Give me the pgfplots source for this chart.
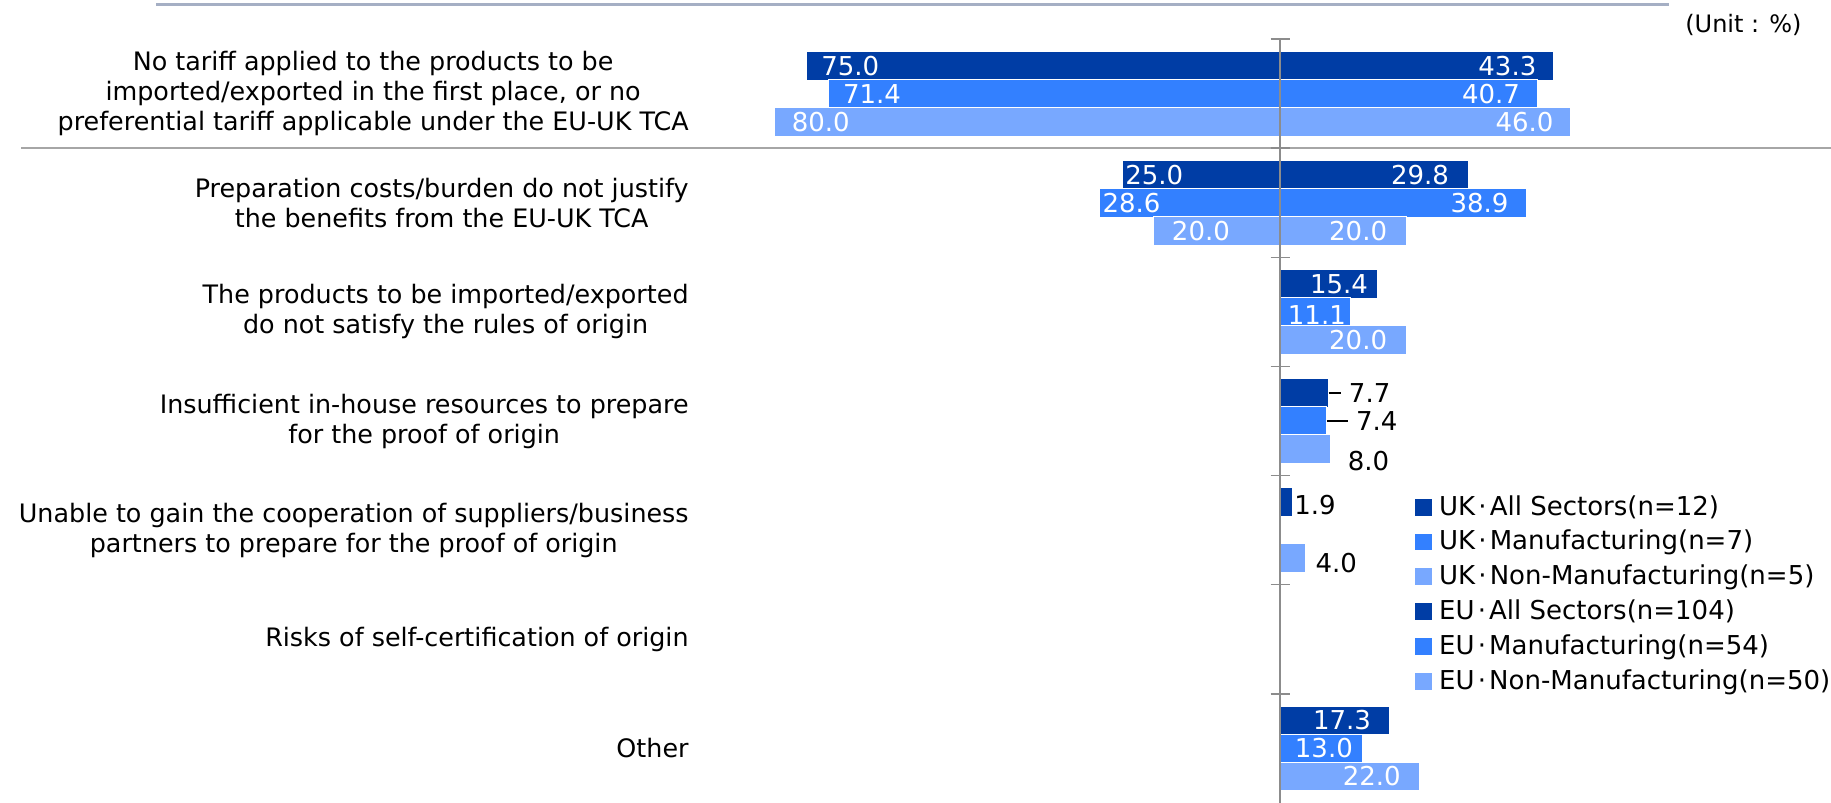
\documentclass[border=0pt]{standalone}
\usepackage{fontspec}
\setmainfont{DejaVu Sans}
\usepackage{pgfplots}
\pgfplotsset{compat=1.18}
\usepackage{pgfplotstable}

\definecolor{cDark}{RGB}{0,61,165}
\definecolor{cMid}{RGB}{51,128,255}
\definecolor{cLight}{RGB}{120,168,255}
\definecolor{axisgray}{RGB}{140,140,140}
\definecolor{sepgray}{RGB}{166,166,166}
\definecolor{topline}{RGB}{165,175,196}

\newcommand\lblfont{\fontsize{13bp}{15bp}\selectfont}
\newcommand\catfont{\fontsize{12.7bp}{15bp}\selectfont}
\newcommand\mdot{\kern0.12em·\kern0.12em}

% y = category (1 = top), x = signed bar length, v = printed value,
% dx/dy = label offset in bp, tc = 1 for a dark label outside the bar
\pgfplotstableread{
y x v dx dy tc
1 -75.0 75.0 7.5 0 0
2 -25.0 25.0 1.5 0 0
}\ukAll
\pgfplotstableread{
y x v dx dy tc
1 -71.4 71.4 7 0 0
2 -28.6 28.6 1.5 0 0
}\ukMfg
\pgfplotstableread{
y x v dx dy tc
1 -80.0 80.0 8.5 0 0
2 -20.0 20.0 9 0 0
}\ukNon
\pgfplotstableread{
y x v dx dy tc
1 43.3 43.3 -8.5 0 0
2 29.8 29.8 -9.5 0 0
3 15.4 15.4 -4.5 0 0
4 7.7 7.7 31 0 1
5 1.9 1.9 22 -1.5 1
7 17.3 17.3 -9 0 0
}\euAll
\pgfplotstableread{
y x v dx dy tc
1 40.7 40.7 -8.5 0 0
2 38.9 38.9 -8.5 0 0
3 11.1 11.1 -2 -1.5 0
4 7.4 7.4 35.5 0 1
7 13.0 13.0 -4.5 0 0
}\euMfg
\pgfplotstableread{
y x v dx dy tc
1 46.0 46.0 -8.5 0 0
2 20.0 20.0 -9.5 0 0
3 20.0 20.0 -9.5 0 0
4 8.0 8.0 29.5 -6 1
5 4.0 4.0 26 -2.5 1
7 22.0 22.0 -9 0 0
}\euNon

\pgfplotsset{
  lbl/.style={
    point meta=explicit,
    visualization depends on={\thisrow{dx}\as\lbldx},
    visualization depends on={\thisrow{dy}\as\lbldy},
    visualization depends on={\thisrow{tc}\as\lbltc},
    nodes near coords={\ifdim\lbltc pt>0.5pt\color{black}\else\color{white}\fi
      \pgfmathprintnumber[fixed,fixed zerofill,precision=1]{\pgfplotspointmeta}},
    every node near coord/.append style={inner sep=0pt, anchor=#1,
      xshift=\lbldx bp, yshift=\lbldy bp, font=\lblfont},
  },
  bars/.style={fill=#1, draw=white, line width=0.35bp},
}

\begin{document}
\begin{tikzpicture}
\begin{axis}[
  scale only axis,
  width=915.5bp, height=382bp,
  xmin=-202.53, xmax=87.18,
  ymin=0.5, ymax=7.5, y dir=reverse,
  xbar, bar width=0.263,
  clip=false,
  axis line style={draw=none},
  xtick=\empty,
  ytick={1,...,7},
  major tick length=0pt,
  yticklabels={
    {No tariff applied to the products to be\\imported/exported in the first place, or no\\preferential tariff applicable under the EU-UK TCA},
    {Preparation costs/burden do not justify\\the benefits from the EU-UK TCA},
    {The products to be imported/exported\\do not satisfy the rules of origin},
    {Insufficient in-house resources to prepare\\for the proof of origin},
    {Unable to gain the cooperation of suppliers/business\\partners to prepare for the proof of origin},
    {Risks of self-certification of origin},
    {Other}},
  yticklabel style={align=center, inner sep=0pt, anchor=east, xshift=344.5bp, font=\catfont},
  /pgf/number format/assume math mode=true,
  legend style={draw=none, fill=none, at={(axis description cs:0.7728,0.4035)}, anchor=north west,
    font=\lblfont, row sep=5.4bp, inner sep=0pt,
    nodes={inner sep=0pt, text height=10bp, text depth=2bp},
    /tikz/every odd column/.append style={column sep=3.5bp}},
  legend cell align=left,
  legend image code/.code={\path[#1,draw=none] (0bp,-4.2bp) rectangle (8.4bp,4.2bp);},
]
\addplot[bars=cDark, bar shift=-0.2565, lbl=west] table[x=x,y=y,meta=v]{\ukAll};
\addplot[bars=cMid, bar shift=0, lbl=west] table[x=x,y=y,meta=v]{\ukMfg};
\addplot[bars=cLight, bar shift=0.2565, lbl=west] table[x=x,y=y,meta=v]{\ukNon};
\addplot[bars=cDark, bar shift=-0.2565, lbl=east] table[x=x,y=y,meta=v]{\euAll};
\addplot[bars=cMid, bar shift=0, lbl=east] table[x=x,y=y,meta=v]{\euMfg};
\addplot[bars=cLight, bar shift=0.2565, lbl=east] table[x=x,y=y,meta=v]{\euNon};
\legend{UK\mdot All Sectors(n=12), UK\mdot Manufacturing(n=7), UK\mdot Non-Manufacturing(n=5),
        EU\mdot All Sectors(n=104), EU\mdot Manufacturing(n=54), EU\mdot Non-Manufacturing(n=50)}

% separator under the first item
\draw[sepgray, line width=1bp] (axis cs:-199.2,1.5) -- (axis cs:87.18,1.5);
% centre axis with category ticks
\draw[axisgray, line width=0.75bp] (axis cs:0,0.5) -- (axis cs:0,7.5);
\pgfplotsinvokeforeach{0.5,1.5,2.5,3.5,4.5,5.5,6.5}{
  \draw[axisgray, line width=0.75bp] ([xshift=-4.75bp]axis cs:0,#1) -- ([xshift=4.75bp]axis cs:0,#1);
}
% leader lines for the small labels
\draw[black, line width=0.6bp] (axis cs:7.7,3.7435) -- (axis cs:9.6,3.7435);
\draw[black, line width=0.6bp] (axis cs:7.4,4) -- (axis cs:10.7,4);
\end{axis}
\draw[topline, line width=1.5bp] ([xshift=78bp,yshift=17bp]current axis.north west) -- ([xshift=834.5bp,yshift=17bp]current axis.north west);
\node[anchor=east, inner sep=0pt, font=\fontsize{12bp}{14bp}\selectfont] at ([xshift=-14.5bp,yshift=7bp]current axis.north east) {(Unit : \%)};
\pgfresetboundingbox
\path (current axis.south west) rectangle ([yshift=19.5bp]current axis.north east);
\end{tikzpicture}
\end{document}
